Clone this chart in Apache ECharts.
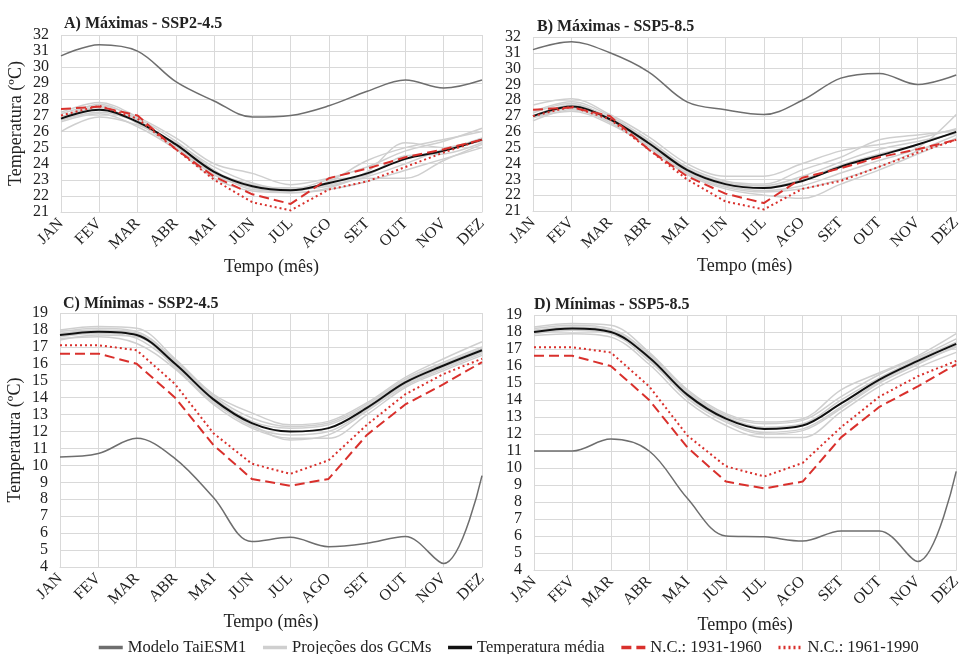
<!DOCTYPE html>
<html><head><meta charset="utf-8">
<script src="https://cdn.jsdelivr.net/npm/echarts@6/dist/echarts.min.js"></script>
<style>html,body{margin:0;padding:0;background:#fff}#c{width:964px;height:654px}</style>
</head><body><div id="c"></div>
<script>
const months = ['JAN','FEV','MAR','ABR','MAI','JUN','JUL','AGO','SET','OUT','NOV','DEZ'];

// Observed normals (same in both scenarios)
const ncMax1931 = [27.4, 27.55, 27.0, 24.9, 23.2, 22.1, 21.5, 23.1, 23.7, 24.4, 24.9, 25.5];
const ncMax1961 = [27.0, 27.6, 26.8, 24.9, 23.0, 21.6, 21.1, 22.4, 22.9, 23.8, 24.7, 25.5];
const ncMin1931 = [16.6, 16.6, 16.0, 14.0, 11.2, 9.2, 8.8, 9.2, 11.8, 13.6, 14.8, 16.1];
const ncMin1961 = [17.1, 17.1, 16.8, 14.8, 11.9, 10.1, 9.5, 10.3, 12.4, 14.2, 15.4, 16.3];

// A) Máximas SSP2-4.5
const taiA = [30.7, 31.4, 31.0, 29.1, 27.9, 26.9, 27.0, 27.6, 28.5, 29.2, 28.7, 29.2];
const meanA = [26.8, 27.35, 26.6, 25.2, 23.5, 22.6, 22.35, 22.8, 23.4, 24.3, 24.8, 25.5];
const gcmA = [
  [26.0, 26.9, 26.4, 25.3, 23.8, 22.8, 22.4, 22.6, 23.1, 23.1, 24.2, 25.2],
  [27.2, 27.8, 26.9, 25.6, 24.0, 23.4, 22.7, 23.1, 23.8, 24.8, 25.4, 26.2],
  [26.9, 27.5, 26.5, 25.0, 23.3, 22.5, 22.2, 22.5, 23.5, 25.3, 25.0, 25.6],
  [27.1, 27.6, 26.8, 25.4, 23.6, 22.4, 22.3, 22.9, 24.2, 25.0, 25.5, 26.0],
  [26.6, 27.1, 26.3, 24.9, 23.1, 22.3, 22.2, 22.4, 22.9, 23.6, 24.3, 25.0],
  [26.8, 27.7, 26.7, 25.1, 23.4, 22.6, 22.5, 22.7, 23.2, 24.0, 24.9, 25.4],
  [26.7, 27.2, 26.6, 25.2, 23.5, 22.7, 22.4, 23.0, 23.3, 24.5, 24.6, 25.3]
];

// B) Máximas SSP5-8.5
const taiB = [31.2, 31.7, 31.0, 29.8, 27.9, 27.4, 27.1, 28.0, 29.4, 29.7, 29.0, 29.6];
const meanB = [27.0, 27.6, 26.8, 25.3, 23.6, 22.7, 22.45, 22.9, 23.8, 24.5, 25.2, 26.0];
const gcmB = [
  [26.7, 27.4, 26.6, 25.0, 23.3, 22.4, 22.0, 21.8, 22.7, 23.6, 24.6, 25.6],
  [27.7, 28.1, 27.1, 25.7, 24.0, 23.2, 23.2, 24.0, 24.8, 25.2, 25.6, 26.2],
  [27.3, 27.9, 27.0, 25.5, 23.8, 22.9, 22.7, 23.6, 24.4, 25.5, 25.8, 26.1],
  [26.9, 27.5, 26.7, 25.2, 23.5, 22.6, 22.3, 22.6, 23.4, 24.2, 25.0, 27.1],
  [27.0, 27.7, 26.9, 25.4, 23.7, 22.8, 22.6, 23.2, 24.1, 24.9, 25.4, 25.9],
  [26.9, 27.3, 26.5, 25.1, 23.4, 22.5, 22.2, 22.4, 23.0, 23.8, 24.8, 25.8],
  [27.2, 27.8, 26.8, 25.3, 23.6, 22.7, 22.5, 23.0, 23.9, 24.6, 25.2, 26.0]
];

// C) Mínimas SSP2-4.5
const taiC = [10.5, 10.7, 11.6, 10.4, 8.1, 5.5, 5.75, 5.2, 5.4, 5.8, 4.2, 9.4];
const meanC = [17.7, 17.9, 17.7, 16.0, 13.9, 12.5, 12.0, 12.2, 13.4, 14.9, 15.9, 16.8];
const gcmC = [
  [18.0, 18.2, 18.1, 16.3, 14.2, 13.1, 12.4, 12.6, 13.7, 15.2, 16.3, 17.3],
  [17.5, 17.6, 17.2, 15.7, 13.6, 12.2, 11.6, 11.6, 13.0, 14.6, 15.6, 16.5],
  [17.8, 18.0, 17.8, 16.1, 14.0, 12.6, 12.2, 12.4, 13.5, 15.0, 16.0, 16.9],
  [17.6, 17.8, 17.5, 15.9, 13.8, 12.3, 11.8, 12.0, 13.3, 14.8, 15.8, 16.7],
  [17.9, 18.1, 17.9, 16.2, 14.1, 12.8, 12.3, 12.5, 13.6, 15.1, 16.1, 17.0],
  [17.4, 17.7, 17.6, 15.8, 13.7, 12.4, 11.5, 11.8, 13.2, 14.7, 15.7, 16.6]
];

// D) Mínimas SSP5-8.5
const taiD = [11.0, 11.0, 11.7, 11.0, 8.2, 6.0, 5.95, 5.7, 6.3, 6.3, 4.5, 9.8];
const meanD = [18.0, 18.2, 18.0, 16.5, 14.3, 12.9, 12.3, 12.5, 13.8, 15.2, 16.3, 17.3];
const gcmD = [
  [18.3, 18.5, 18.4, 16.8, 14.6, 13.2, 12.7, 12.9, 14.6, 15.6, 16.6, 17.9],
  [17.8, 17.9, 17.7, 16.1, 13.9, 12.5, 11.8, 11.8, 13.3, 14.8, 15.9, 16.8],
  [18.1, 18.3, 18.1, 16.6, 14.4, 13.0, 12.4, 12.6, 14.0, 15.3, 16.4, 17.4],
  [17.9, 18.1, 17.9, 16.3, 14.2, 12.8, 12.1, 12.3, 13.6, 15.1, 16.2, 17.1],
  [18.2, 18.4, 18.2, 16.7, 14.5, 13.1, 12.6, 12.8, 14.2, 15.5, 16.5, 17.6],
  [18.0, 18.1, 18.0, 16.4, 14.1, 12.7, 12.0, 12.2, 13.5, 15.0, 16.1, 17.2]
];

const titles = ['A) Máximas - SSP2-4.5', 'B) Máximas - SSP5-8.5', 'C) Mínimas - SSP2-4.5', 'D) Mínimas - SSP5-8.5'];
const names = {tai: 'Modelo TaiESM1', gcm: 'Projeções dos GCMs', mean: 'Temperatura média', nc1: 'N.C.: 1931-1960', nc2: 'N.C.: 1961-1990'};

const FONT = '"Liberation Serif", "Times New Roman", serif';
const GRIDC = '#d9d9d9';
const RED = '#d9302c';
const TXT = '#222';
const SM = 0.35;

const panels = [
  {tai: taiA, mean: meanA, gcm: gcmA, nc1: ncMax1931, nc2: ncMax1961, min: 21, max: 32,
   grid: {left: 61, top: 35, width: 421, height: 177}, yName: true, title: [59, 11]},
  {tai: taiB, mean: meanB, gcm: gcmB, nc1: ncMax1931, nc2: ncMax1961, min: 21, max: 32,
   grid: {left: 533, top: 37, width: 428, height: 174}, yName: false, title: [532, 14]},
  {tai: taiC, mean: meanC, gcm: gcmC, nc1: ncMin1931, nc2: ncMin1961, min: 4, max: 19,
   grid: {left: 60, top: 313, width: 422, height: 254}, yName: true, title: [58, 291]},
  {tai: taiD, mean: meanD, gcm: gcmD, nc1: ncMin1931, nc2: ncMin1961, min: 4, max: 19,
   grid: {left: 534, top: 315, width: 427, height: 255}, yName: false, title: [529, 292]}
];

const grid = [], xAxis = [], yAxis = [], series = [], title = [];
panels.forEach((p, i) => {
  grid.push(p.grid);
  title.push({text: titles[i], left: p.title[0], top: p.title[1],
    textStyle: {fontFamily: FONT, fontSize: 16, fontWeight: 'bold', color: TXT}});
  xAxis.push({type: 'category', gridIndex: i, data: months, boundaryGap: false,
    name: 'Tempo (mês)', nameLocation: 'middle', nameGap: 46,
    nameTextStyle: {fontFamily: FONT, fontSize: 18, color: TXT},
    axisTick: {show: false}, axisLine: {lineStyle: {color: GRIDC}},
    axisLabel: {rotate: 45, fontFamily: FONT, fontSize: 16, color: TXT, margin: 9, interval: 0},
    splitLine: {show: true, lineStyle: {color: GRIDC}}});
  yAxis.push({type: 'value', gridIndex: i, min: p.min, max: p.max, interval: 1,
    name: p.yName ? 'Temperatura (ºC)' : '', nameLocation: 'middle', nameGap: 36,
    nameTextStyle: {fontFamily: FONT, fontSize: 18, color: TXT},
    axisLine: {show: false}, axisTick: {show: false},
    axisLabel: {fontFamily: FONT, fontSize: 16, color: TXT, margin: 12,
      showMinLabel: true, showMaxLabel: true},
    splitLine: {show: true, lineStyle: {color: GRIDC}}});
  p.gcm.forEach(g => series.push({name: names.gcm, type: 'line', xAxisIndex: i, yAxisIndex: i,
    data: g, smooth: SM, symbol: 'none', lineStyle: {color: '#cfcfcf', width: 1.5}, itemStyle: {color: '#cfcfcf'}}));
  series.push({name: names.tai, type: 'line', xAxisIndex: i, yAxisIndex: i, data: p.tai, smooth: SM,
    symbol: 'none', lineStyle: {color: '#6e6e6e', width: 1.5}, itemStyle: {color: '#6e6e6e'}});
  series.push({name: names.mean, type: 'line', xAxisIndex: i, yAxisIndex: i, data: p.mean, smooth: SM,
    symbol: 'none', lineStyle: {color: '#111', width: 2}, itemStyle: {color: '#111'}});
  series.push({name: names.nc1, type: 'line', xAxisIndex: i, yAxisIndex: i, data: p.nc1,
    symbol: 'none', lineStyle: {color: RED, width: 2, type: [10, 5]}, itemStyle: {color: RED}});
  series.push({name: names.nc2, type: 'line', xAxisIndex: i, yAxisIndex: i, data: p.nc2,
    symbol: 'none', lineStyle: {color: RED, width: 2, type: [2, 3]}, itemStyle: {color: RED}});
});

const chart = echarts.init(document.getElementById('c'), null, {renderer: 'canvas'});
chart.setOption({
  animation: false,
  backgroundColor: '#fff',
  title: title,
  grid: grid, xAxis: xAxis, yAxis: yAxis, series: series,
  legend: {data: [names.tai, names.gcm, names.mean, names.nc1, names.nc2],
    left: 92, top: 634, itemWidth: 24, itemHeight: 10, itemGap: 15,
    itemStyle: {opacity: 0}, lineStyle: {width: 3.5},
    textStyle: {fontFamily: FONT, fontSize: 16.5, color: TXT}}
});
</script></body></html>
